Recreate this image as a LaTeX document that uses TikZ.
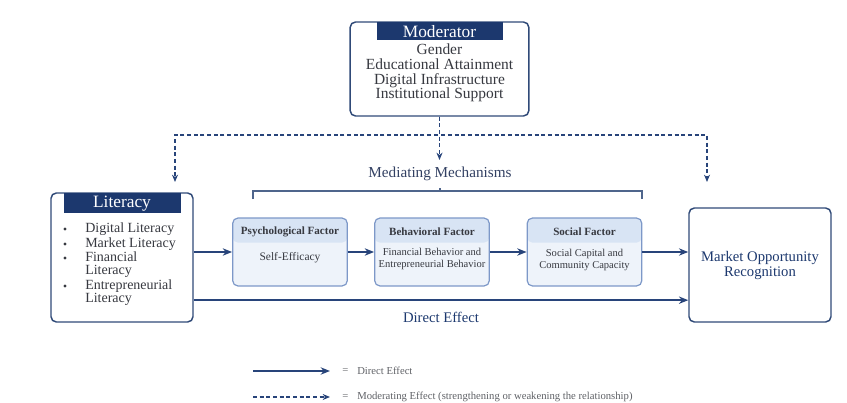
\documentclass[tikz,border=0pt]{standalone}
\usepackage{fontspec}
\setmainfont{Liberation Serif}
\usetikzlibrary{arrows.meta, positioning, calc}
\definecolor{navyhead}{RGB}{28,56,110}
\definecolor{navyline}{RGB}{48,74,120}
\definecolor{arrowblue}{RGB}{40,68,122}
\definecolor{midborder}{RGB}{125,152,200}
\definecolor{midhead}{RGB}{216,228,244}
\definecolor{midbody}{RGB}{238,243,250}
\definecolor{textgray}{RGB}{55,57,64}
\definecolor{labelnavy}{RGB}{50,64,98}

\begin{document}
\begin{tikzpicture}[x=0.75pt, y=-0.75pt,
    bigbox/.style={draw=navyline, line width=1.1pt, rounded corners=4pt, fill=white},
    headbox/.style={fill=navyhead, text=white, inner sep=0pt},
    factor/.style={draw=midborder, line width=0.9pt, rounded corners=4pt, fill=midbody,
                   minimum width=86pt, minimum height=51pt,
                   path picture={\fill[midhead] (path picture bounding box.north west)
                     rectangle ([yshift=-18.5pt]path picture bounding box.north east);}},
    facthead/.style={font=\fontsize{8.3}{9}\selectfont\bfseries, text=textgray},
    factbody/.style={font=\fontsize{7.9}{8.6}\selectfont, text=textgray, align=center},
    item/.style={anchor=west, align=left, inner sep=0pt, text=textgray,
                 font=\fontsize{10.5}{10}\selectfont},
    dot/.style={circle, fill=textgray, inner sep=0pt, minimum size=2.4pt},
    legtext/.style={anchor=west, inner sep=0pt, text=textgray!80, font=\fontsize{8}{9}\selectfont},
    arr/.style={-{Stealth[length=7pt, width=5.5pt]}, line width=1.4pt, draw=arrowblue},
    modarr/.style={-{Stealth[length=5.5pt, width=4.5pt]}, line width=1.1pt, draw=arrowblue,
                   dash pattern=on 3pt off 2pt},
    brk/.style={draw=navyline!85, line width=0.9pt},
]
\useasboundingbox (0,0) rectangle (847,403);

% --- Moderator ---
\node[bigbox, minimum width=134pt, minimum height=70.5pt] (mod) at (439.5,69) {};
\node[headbox, minimum width=94.5pt, minimum height=13.5pt, anchor=north,
      font=\fontsize{13}{13}\selectfont] (modH) at ([yshift=-0.6pt]mod.north) {Moderator};
\node[align=center, text=textgray, font=\fontsize{11.6}{11}\selectfont] (modT) at (439.5,73)
     {Gender\\Educational Attainment\\Digital Infrastructure\\Institutional Support};

% --- Literacy ---
\node[bigbox, minimum width=106.5pt, minimum height=96.75pt] (lit) at (122,257.5) {};
\node[headbox, minimum width=87.75pt, minimum height=15pt, anchor=north,
      font=\fontsize{13}{13}\selectfont] (litH) at ([yshift=-0.6pt]lit.north) {Literacy};
\node[dot] (b1) at (65,229) {};
\node[dot] (b2) at (65,244) {};
\node[dot] (b3) at (65,258) {};
\node[dot] (b4) at (65,286) {};
\node[item] (lit1) at (85,229) {Digital Literacy};
\node[item] (lit2) at (85,244) {Market Literacy};
\node[item] (lit3) at (85,264.5) {Financial\\Literacy};
\node[item] (lit4) at (85,292.5) {Entrepreneurial\\Literacy};

% --- Mediating mechanisms ---
\node[text=labelnavy, font=\fontsize{11.4}{12}\selectfont] (med) at (440,174) {Mediating Mechanisms};
\coordinate (brL) at (253,199);
\coordinate (brR) at (642,199);
\coordinate (brTop) at (440,191);
\draw[brk] (brL) -- ++(0,-8) -| (brR);
\draw[brk] ([yshift=-2pt]med.south) -- (brTop);

\node[factor] (psych) at (290,252) {};
\node[facthead] (psychH) at (290,232) {Psychological Factor};
\node[factbody, font=\fontsize{8.6}{9}\selectfont] (psychB) at (290,258) {Self-Efficacy};

\node[factor] (behav) at (432,252) {};
\node[facthead] (behavH) at (432,232) {Behavioral Factor};
\node[factbody] (behavB) at (432,259) {Financial Behavior and\\Entrepreneurial Behavior};

\node[factor] (social) at (584.5,252) {};
\node[facthead] (socialH) at (584.5,232) {Social Factor};
\node[factbody] (socialB) at (584.5,260) {Social Capital and\\Community Capacity};

% --- Outcome ---
\node[bigbox, minimum width=106.5pt, minimum height=85.5pt, align=center, text=navyhead,
      font=\fontsize{11}{11.25}\selectfont] (mor) at (760,265) {Market Opportunity\\Recognition};

% --- Arrows: moderating ---
\coordinate (modJ) at (439.5,135);
\coordinate (modL) at (175,182);
\coordinate (modC) at (439.5,160);
\coordinate (modR) at (707,182);
\draw[modarr] (mod.south) -- (modJ) -| (modL);
\draw[modarr] (mod.south) -- (modJ) -| (modR);
\draw[modarr] (mod.south) -- (modC);

% --- Arrows: mediation chain ---
\draw[arr] (lit.east |- psych.west) -- (psych.west);
\draw[arr] (psych) -- (behav);
\draw[arr] (behav) -- (social);
\draw[arr] (social.east) -- (social.east -| mor.west);

% --- Arrows: direct ---
\coordinate (dirS) at ([yshift=-32pt]lit.east);
\draw[arr] (dirS) -- (dirS -| mor.west)
    node[midway, below=5pt, text=navyhead, font=\fontsize{11}{12}\selectfont] (dirL) {Direct Effect};

% --- Legend ---
\coordinate (lgA) at (253,371);
\coordinate (lgB) at (330,371);
\coordinate (lgC) at (253,397);
\coordinate (lgD) at (330,397);
\draw[arr] (lgA) -- (lgB);
\draw[modarr] (lgC) -- (lgD);
\node[legtext] (lgEq1) at (342,371) {=};
\node[legtext] (lgT1) at (357,371) {Direct Effect};
\node[legtext] (lgEq2) at (342,397) {=};
\node[legtext] (lgT2) at (357,397) {Moderating Effect (strengthening or weakening the relationship)};

\end{tikzpicture}
\end{document}
